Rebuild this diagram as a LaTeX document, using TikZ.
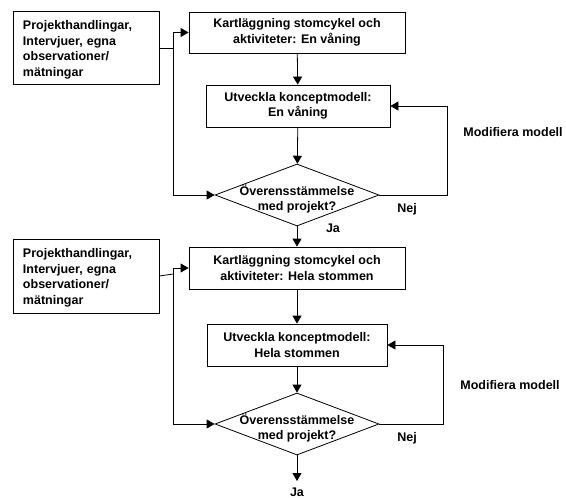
\documentclass[tikz,border=0pt]{standalone}
\usepackage{fontspec}
\setmainfont{Liberation Sans}
\usetikzlibrary{arrows.meta,shapes.geometric}
\begin{document}
\begin{tikzpicture}[x=1pt,y=-1pt,
  every node/.style={font=\bfseries\fontsize{12.5}{15.5}\selectfont},
  srcbox/.style={draw,line width=0.8pt,rectangle,inner sep=0pt,minimum width=146pt},
  srctext/.style={text width=126pt,align=left,inner sep=0pt},
  procbox/.style={draw,line width=0.8pt,rectangle,align=center,inner sep=0pt,minimum height=42pt},
  decision/.style={draw,line width=0.8pt,diamond,inner sep=0pt,minimum width=164pt,minimum height=62pt,
    label={[yshift=-4pt,align=center]center:{Överensstämmelse\\med projekt?}}},
  flow/.style={line width=0.8pt,-{Triangle[length=8pt,width=9pt]}},
  plain/.style={line width=0.8pt}]
\useasboundingbox (0,0) rectangle (566,498);

% --- first stage: one storey ---
\node[srcbox,minimum height=73pt] (L1) at (86,48) {};
\node[srctext] (L1t) at (86,50)
  {Projekthandlingar,\\Intervjuer, egna\\observationer/\\mätningar};
\node[procbox,minimum width=216pt,minimum height=41pt] (K1) at (297,32.5)
  {Kartläggning stomcykel och\\aktiviteter: En våning};
\node[procbox,minimum width=184pt] (U1) at (298,106)
  {Utveckla konceptmodell:\\En våning};
\node[decision] (D1) at (297,195) {};
\coordinate (J1) at (173,48);
\coordinate (R1) at (447,195);

\draw[plain] (L1.east) -- (J1);
\draw[flow] (J1) |- (K1.west);
\draw[flow] (J1) |- (D1.west);
\draw[flow] (K1) -- (U1);
\draw[flow] (U1) -- (D1);
\draw[flow] (D1.east) -- (R1) |- (U1.east);
\node (N1) at (407,209) {Nej};
\node (M1) at (513,132) {Modifiera modell};

% --- second stage: whole frame ---
\node[srcbox,minimum height=74pt] (L2) at (86,276) {};
\node[srctext] (L2t) at (86,278)
  {Projekthandlingar,\\Intervjuer, egna\\observationer/\\mätningar};
\node[procbox,minimum width=216pt] (K2) at (297,268)
  {Kartläggning stomcykel och\\aktiviteter: Hela stommen};
\node[procbox,minimum width=180pt] (U2) at (297,345)
  {Utveckla konceptmodell:\\Hela stommen};
\node[decision] (D2) at (297,424) {};
\coordinate (J2) at (173,274);
\coordinate (R2) at (443,424);
\coordinate (E2) at (297,481);

\draw[flow] (D1.south) -- (K2.north);
\node (Ja1) at (333,228) {Ja};

\draw[plain] (L2.east) -- (J2);
\draw[flow] (J2) |- (K2.west);
\draw[flow] (J2) |- (D2.west);
\draw[flow] (K2) -- (U2);
\draw[flow] (U2) -- (D2);
\draw[flow] (D2.east) -- (R2) |- (U2.east);
\node (N2) at (407,438) {Nej};
\node (M2) at (510,385) {Modifiera modell};
\draw[flow] (D2.south) -- (E2);
\node (Ja2) at (297,492) {Ja};
\end{tikzpicture}
\end{document}
